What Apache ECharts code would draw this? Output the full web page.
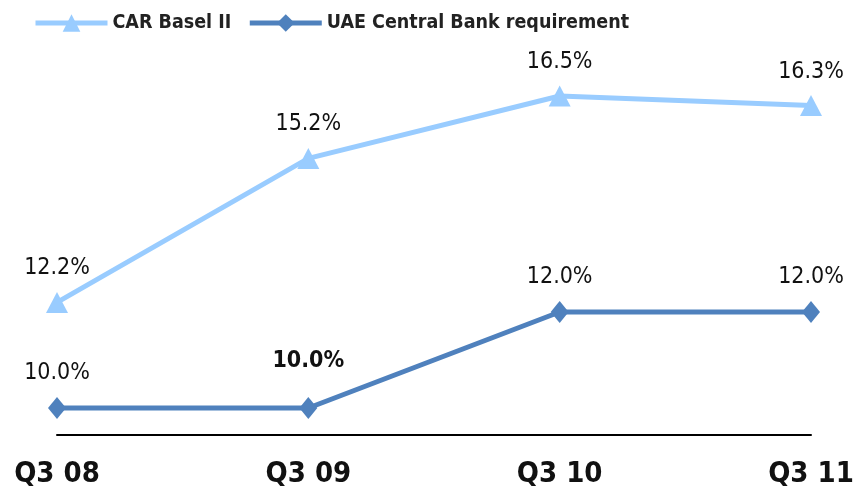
<!DOCTYPE html>
<html><head><meta charset="utf-8">
<script src="https://cdn.jsdelivr.net/npm/echarts@6/dist/echarts.min.js"></script>
<style>html,body{margin:0;padding:0;background:#fff}#c{width:853px;height:492px}</style>
</head><body><div id="c"></div>
<script>
var categories = ['Q3 08', 'Q3 09', 'Q3 10', 'Q3 11'];
var carBasel = [12.2, 15.2, 16.5, 16.3];
var uaeReq = [10.0, 10.0, 12.0, 12.0];
var seriesNames = ['CAR Basel II', 'UAE Central Bank requirement'];

var font = "'DejaVu Sans Condensed', 'DejaVu Sans', sans-serif";
var chart = echarts.init(document.getElementById('c'));
var lbl = {show: true, position: 'top', distance: 12, fontSize: 23, color: '#111', fontFamily: font,
  formatter: function (p) { return p.value.toFixed(1) + '%'; }};
chart.setOption({
  animation: false,
  legend: {
    left: 28, top: 8, itemWidth: 72, itemHeight: 22, itemGap: 16,
    lineStyle: {width: 5},
    textStyle: {fontSize: 19.5, color: '#222', fontFamily: font, fontWeight: 'bold'},
    data: seriesNames
  },
  grid: {left: 57, right: 42, top: 50.4, bottom: 57.6, outerBoundsMode: 'none', containLabel: false},
  xAxis: {
    type: 'category', data: categories, boundaryGap: false,
    axisLine: {lineStyle: {color: '#000', width: 2}},
    axisTick: {show: false},
    axisLabel: {margin: 26, fontSize: 29, fontWeight: 'bold', color: '#111', fontFamily: font,
      interval: 0}
  },
  yAxis: {type: 'value', min: 9.45, max: 17.45, show: false, splitLine: {show: false}},
  series: [
    {name: seriesNames[0], type: 'line', data: carBasel, symbol: 'triangle', symbolSize: [22, 21],
      itemStyle: {color: '#99CCFF'}, lineStyle: {width: 5, color: '#99CCFF'}, label: lbl},
    {name: seriesNames[1], type: 'line', data: uaeReq.map(function (v, i) {
        return i === 1 ? {value: v, label: {distance: 24, fontWeight: 'bold'}} : v; }),
      symbol: 'diamond', symbolSize: [18, 22],
      itemStyle: {color: '#4F81BD'}, lineStyle: {width: 5, color: '#4F81BD'}, label: lbl}
  ]
});
</script></body></html>
